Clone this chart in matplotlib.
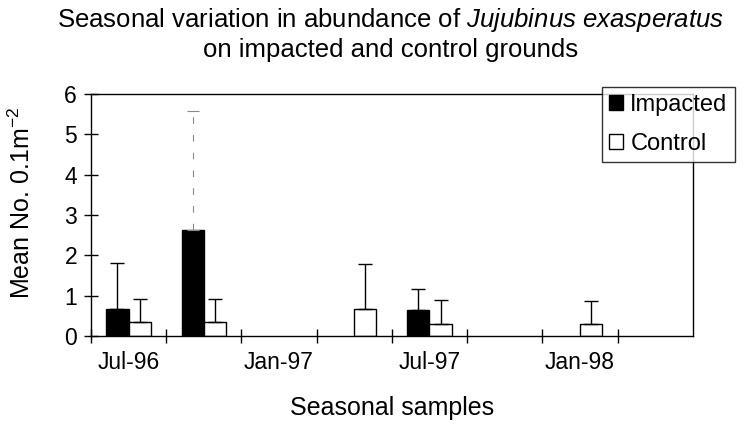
import numpy as np
import matplotlib
matplotlib.use("Agg")
import matplotlib.pyplot as plt
from matplotlib.patches import Patch

plt.rcParams['font.family'] = ['Liberation Sans', 'DejaVu Sans']
plt.rcParams['mathtext.fontset'] = 'custom'
plt.rcParams['mathtext.rm'] = 'Liberation Sans'
plt.rcParams['mathtext.it'] = 'Liberation Sans:italic'

# quarterly samples
samples = ["Jul-96", "Oct-96", "Jan-97", "Apr-97", "Jul-97", "Oct-97", "Jan-98", "Apr-98"]
tick_labels = ["Jul-96", "", "Jan-97", "", "Jul-97", "", "Jan-98", ""]
impacted = np.array([0.68, 2.63, 0, 0, 0.65, 0, 0, 0])
impacted_err = np.array([1.14, 2.94, np.nan, np.nan, 0.53, np.nan, np.nan, np.nan])
control = np.array([0.34, 0.34, 0, 0.66, 0.31, 0, 0.29, 0])
control_err = np.array([0.59, 0.58, np.nan, 1.13, 0.58, np.nan, 0.59, np.nan])

fig = plt.figure(figsize=(7.45, 4.26), dpi=100)
ax = fig.add_axes([0.122, 0.211, 0.808, 0.568])

x = np.arange(len(samples))
w = 0.295

# bars (skip the zero ones so no flat lines show)
mi = impacted > 0
mc = control > 0
ax.bar(x[mi] - w/2, impacted[mi], w, color='black', edgecolor='black', linewidth=1)
ax.bar(x[mc] + w/2, control[mc], w, color='white', edgecolor='black', linewidth=1)

# error bars, upper only
solid = ~np.isnan(impacted_err)
solid[1] = False
ax.errorbar(x[solid] - w/2, impacted[solid],
            yerr=[np.zeros(solid.sum()), impacted_err[solid]],
            fmt='none', ecolor='black', elinewidth=1, capsize=5, capthick=1)
# the big one on Oct-96 is faint/dashed in the original
eb = ax.errorbar(x[1] - w/2, impacted[1], yerr=[[0], [impacted_err[1]]],
                 fmt='none', ecolor='#888888', elinewidth=0.8, capsize=4, capthick=0.8)
eb[2][0].set_linestyle((0, (6, 10)))
cm = ~np.isnan(control_err)
ax.errorbar(x[cm] + w/2, control[cm],
            yerr=[np.zeros(cm.sum()), control_err[cm]],
            fmt='none', ecolor='black', elinewidth=1, capsize=5, capthick=1)

ax.set_xlim(-0.5, len(samples) - 0.5)
ax.set_ylim(0, 6)
ax.set_yticks(range(0, 7))
ax.set_xticks(x - 0.5)
ax.set_xticklabels([])
ax.set_xticks(x, minor=True)
ax.set_xticklabels(tick_labels, minor=True, fontsize=16.5)
ax.tick_params(axis='x', which='minor', length=0, pad=11)
ax.tick_params(axis='x', which='major', direction='inout', length=10, width=1)
ax.tick_params(axis='y', direction='inout', length=10, width=1, labelsize=16.5, pad=5)
for s in ax.spines.values():
    s.set_linewidth(1)

fig.text(22/745, 1 - 203/426, "Mean No. 0.1m$^{-2}$", rotation=90,
         ha='center', va='center', fontsize=18)
fig.text(392/745, 1 - 408/426, "Seasonal samples", ha='center', va='center', fontsize=18)

fig.text(391/745, 1 - 20/426, r"Seasonal variation in abundance of $Jujubinus\ exasperatus$",
         ha='center', va='center', fontsize=18.5)
fig.text(391/745, 1 - 50/426, "on impacted and control grounds",
         ha='center', va='center', fontsize=18.5)

handles = [Patch(facecolor='black', edgecolor='black', label='Impacted'),
           Patch(facecolor='white', edgecolor='black', label='Control')]
leg = fig.legend(handles=handles, loc='upper left', bbox_to_anchor=(602/745, 1 - 87/426),
                 fontsize=17, frameon=True, fancybox=False, edgecolor='black',
                 handlelength=0.6, handleheight=0.6, handletextpad=0.3,
                 borderpad=0.3, labelspacing=0.7, borderaxespad=0)
leg.get_frame().set_linewidth(1)

fig.savefig("out.png", dpi=100)
